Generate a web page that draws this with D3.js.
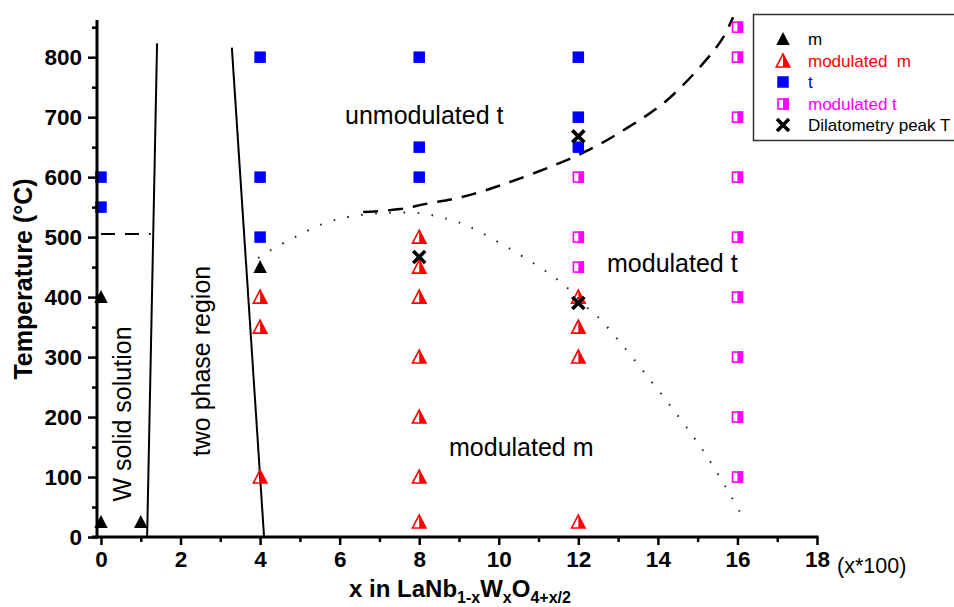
<!DOCTYPE html>
<html>
<head>
<meta charset="utf-8">
<script src="https://cdn.jsdelivr.net/npm/d3@7"></script>
<style>
  html, body { margin: 0; padding: 0; background: #fff; }
  svg { display: block; font-family: "Liberation Sans", Arial, sans-serif; }
</style>
</head>
<body>
<svg id="chart" width="954" height="607"></svg>
<script>
// ---- data: composition x (x*100) and temperature (°C) ----
const xTickValues = [0, 2, 4, 6, 8, 10, 12, 14, 16, 18];
const yTickValues = [0, 100, 200, 300, 400, 500, 600, 700, 800];

// monoclinic (m)
const mX = [0, 1, 0, 4];
const mT = [25, 25, 400, 450];
// modulated monoclinic
const modMX = [4, 4, 4, 8, 8, 8, 8, 8, 8, 8, 12, 12, 12, 12];
const modMT = [400, 350, 100, 500, 450, 400, 300, 200, 100, 25, 400, 350, 300, 25];
// tetragonal (t)
const tX = [0, 0, 4, 4, 4, 8, 8, 8, 12, 12, 12];
const tT = [600, 550, 800, 600, 500, 800, 650, 600, 800, 700, 650];
// modulated tetragonal
const modTX = [12, 12, 12, 16, 16, 16, 16, 16, 16, 16, 16, 16];
const modTT = [600, 500, 450, 850, 800, 700, 600, 500, 400, 300, 200, 100];
// dilatometry peak temperatures
const dilX = [8, 12, 12];
const dilT = [467, 668, 390];

// phase boundaries
const solidusX = [1.16, 1.41];
const solidusT = [0, 823];
const twoPhaseX = [4.1, 3.29];
const twoPhaseT = [0, 816];
const transX = [0, 1.25];
const transT = [505, 505];
const tBoundaryX = [6.59, 7.52, 8.14, 9.35, 11.99, 13.22, 14.23, 15.23, 15.63, 15.89];
const tBoundaryT = [541.7, 546.7, 555, 571.7, 636.7, 681.7, 728.3, 796.7, 831.7, 866.7];
const modBoundaryX = [3.95, 4.27, 4.93, 5.63, 6.33, 7.11, 7.99, 8.72, 9.28, 11.46, 12.29, 12.57, 15.11, 16.09];
const modBoundaryT = [465, 478.3, 501.7, 523.3, 535, 540, 540, 530, 516.7, 430, 378.3, 361.7, 146.7, 38.3];

const legendLabels = ["m", "modulated  m", "t", "modulated t", "Dilatometry peak T"];
const legendColors = ["#000000", "#ff0000", "#0000ff", "#ff00ff", "#000000"];

const zip = (xs, ys) => xs.map((v, i) => [v, ys[i]]);

const svg = d3.select("#chart");
const x = d3.scaleLinear().domain([-0.1, 18]).range([97, 817]);
const y = d3.scaleLinear().domain([0, 862]).range([537, 20]);

// ---- boundaries ----
const line = d3.line().x(d => x(d[0])).y(d => y(d[1]));
const smooth = d3.line().x(d => x(d[0])).y(d => y(d[1])).curve(d3.curveCatmullRom.alpha(0.5));

svg.append("path").attr("d", line(zip(solidusX, solidusT)))
  .attr("fill", "none").attr("stroke", "#000").attr("stroke-width", 2);
svg.append("path").attr("d", line(zip(twoPhaseX, twoPhaseT)))
  .attr("fill", "none").attr("stroke", "#000").attr("stroke-width", 2);
svg.append("path").attr("d", line(zip(transX, transT)))
  .attr("fill", "none").attr("stroke", "#000").attr("stroke-width", 2)
  .attr("stroke-dasharray", "14,10");
svg.append("path").attr("d", smooth(zip(tBoundaryX, tBoundaryT)))
  .attr("fill", "none").attr("stroke", "#000").attr("stroke-width", 2.5)
  .attr("stroke-dasharray", "15,10");
svg.append("path").attr("d", smooth(zip(modBoundaryX, modBoundaryT)))
  .attr("fill", "none").attr("stroke", "#222").attr("stroke-width", 2)
  .attr("stroke-dasharray", "1.6,12.5");

// ---- region labels ----
const region = (txt, px, py, rot) => {
  const t = svg.append("text").text(txt).attr("font-size", 25).attr("fill", "#000");
  if (rot) {
    t.attr("text-anchor", "middle").attr("transform", `translate(${px},${py}) rotate(-90)`);
  } else {
    t.attr("x", px).attr("y", py);
  }
};
region("unmodulated t", 345, 124);
region("modulated t", 607, 272);
region("modulated m", 449, 456);
region("W solid solution", 131, 414, true);
region("two phase region", 210, 361, true);

// ---- marker shapes ----
function triangle(g, cx, cy, color, half) {
  const w = 13.5, h = 13;
  const top = cy - h / 2 - 0.5, bot = cy + h / 2 - 0.5;
  if (half) {
    g.append("path").attr("d", `M${cx},${top}L${cx + w / 2},${bot}L${cx},${bot}Z`).attr("fill", color);
    g.append("path").attr("d", `M${cx},${top}L${cx + w / 2},${bot}L${cx - w / 2},${bot}Z`)
      .attr("fill", "none").attr("stroke", color).attr("stroke-width", 1.6).attr("stroke-linejoin", "miter");
  } else {
    g.append("path").attr("d", `M${cx},${top}L${cx + w / 2},${bot}L${cx - w / 2},${bot}Z`).attr("fill", color);
  }
}
function square(g, cx, cy, color, half) {
  const s = 11.5;
  if (half) {
    g.append("rect").attr("x", cx - s / 2 + 0.8).attr("y", cy - s / 2 + 0.8).attr("width", s - 1.6).attr("height", s - 1.6)
      .attr("fill", "#fff").attr("stroke", color).attr("stroke-width", 1.6);
    g.append("rect").attr("x", cx).attr("y", cy - s / 2).attr("width", s / 2).attr("height", s).attr("fill", color);
  } else {
    g.append("rect").attr("x", cx - s / 2).attr("y", cy - s / 2).attr("width", s).attr("height", s).attr("fill", color);
  }
}
function cross(g, cx, cy, color) {
  const r = 6;
  g.append("path").attr("d", `M${cx - r},${cy - r}L${cx + r},${cy + r}M${cx - r},${cy + r}L${cx + r},${cy - r}`)
    .attr("stroke", color).attr("stroke-width", 3.6).attr("fill", "none");
}

const marks = svg.append("g");
zip(tX, tT).forEach(d => square(marks, x(d[0]), y(d[1]), "#0000ff", false));
zip(modTX, modTT).forEach(d => square(marks, x(d[0]), y(d[1]), "#ff00ff", true));
zip(mX, mT).forEach(d => triangle(marks, x(d[0]), y(d[1]), "#000000", false));
zip(modMX, modMT).forEach(d => triangle(marks, x(d[0]), y(d[1]), "#ff0000", true));
zip(dilX, dilT).forEach(d => cross(marks, x(d[0]), y(d[1]), "#000000"));

// ---- axes ----
const xMinor = d3.range(0, 19, 1).filter(v => v % 2 !== 0);
const yMinor = d3.range(50, 862, 100);

svg.append("g").attr("transform", `translate(0,${y(0)})`)
  .call(d3.axisBottom(x).tickValues(xTickValues).tickSize(8).tickPadding(6).tickFormat(d3.format("d")));
svg.append("g").attr("transform", `translate(0,${y(0)})`)
  .call(d3.axisBottom(x).tickValues(xMinor).tickSize(5).tickFormat(""));
svg.append("g").attr("transform", `translate(${x.range()[0]},0)`)
  .call(d3.axisLeft(y).tickValues(yTickValues).tickSize(9).tickPadding(6).tickFormat(d3.format("d")));
svg.append("g").attr("transform", `translate(${x.range()[0]},0)`)
  .call(d3.axisLeft(y).tickValues(yMinor).tickSize(5).tickFormat(""));

svg.selectAll(".domain").remove();
svg.selectAll(".tick line").attr("stroke", "#000").attr("stroke-width", 2.5);
svg.selectAll(".tick text").attr("font-family", "Liberation Sans, Arial, sans-serif")
  .attr("font-size", 22.5).attr("font-weight", "bold").attr("fill", "#000");

// axis lines
svg.append("line").attr("x1", x.range()[0] - 5).attr("x2", x.range()[1] + 1.5)
  .attr("y1", y(0)).attr("y2", y(0)).attr("stroke", "#000").attr("stroke-width", 3);
svg.append("line").attr("x1", x.range()[0]).attr("x2", x.range()[0])
  .attr("y1", y.range()[1]).attr("y2", y(0) + 1.5).attr("stroke", "#000").attr("stroke-width", 3);

svg.append("text").text("(x*100)").attr("x", 837).attr("y", 573)
  .attr("font-size", 21.5).attr("fill", "#000");

// axis titles
svg.append("text").attr("transform", `translate(32,279) rotate(-90)`)
  .attr("text-anchor", "middle").attr("font-size", 25).attr("font-weight", "bold")
  .text("Temperature (°C)");

const xt = svg.append("text").attr("x", 460).attr("y", 597).attr("text-anchor", "middle")
  .attr("font-size", 24).attr("font-weight", "bold");
const seg = [["x in LaNb", 0], ["1-x", 1], ["W", 0], ["x", 1], ["O", 0], ["4+x/2", 1]];
let prevSub = false;
seg.forEach(([s, sub]) => {
  const ts = xt.append("tspan").text(s);
  if (sub) ts.attr("font-size", 16).attr("dy", prevSub ? 0 : 6);
  else if (prevSub) ts.attr("dy", -6);
  prevSub = !!sub;
});

// ---- legend ----
const lg = svg.append("g");
lg.append("rect").attr("x", 753.5).attr("y", 14.5).attr("width", 220).attr("height", 126)
  .attr("fill", "#fff").attr("stroke", "#333").attr("stroke-width", 1.5);
const rowY = [39, 61, 82, 104, 125];
legendLabels.forEach((lab, i) => {
  const cy = rowY[i], cx = 783;
  if (i === 0) triangle(lg, cx, cy, legendColors[i], false);
  if (i === 1) triangle(lg, cx, cy, legendColors[i], true);
  if (i === 2) square(lg, cx, cy, legendColors[i], false);
  if (i === 3) square(lg, cx, cy, legendColors[i], true);
  if (i === 4) cross(lg, cx, cy, legendColors[i]);
  lg.append("text").text(lab).attr("x", 808).attr("y", cy + 6)
    .attr("font-size", 17).attr("fill", legendColors[i]).style("white-space", "pre");
});
</script>
</body>
</html>
